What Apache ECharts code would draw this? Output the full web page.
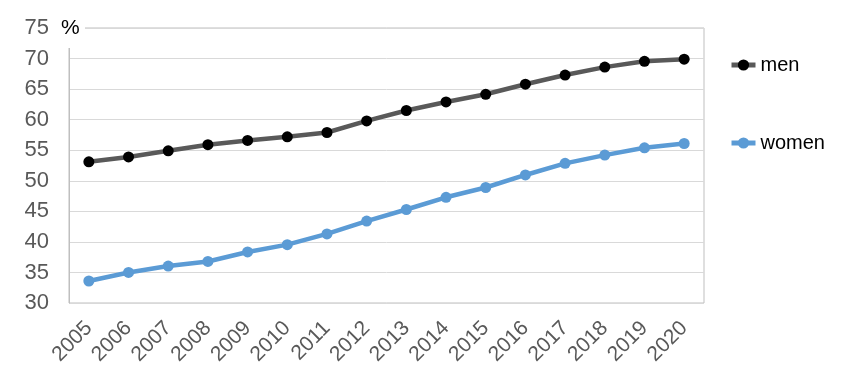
<!DOCTYPE html>
<html><head><meta charset="utf-8">
<script src="https://cdn.jsdelivr.net/npm/echarts@6/dist/echarts.min.js"></script>
<style>html,body{margin:0;padding:0;background:#fff}#c{width:850px;height:384px}</style>
</head><body><div id="c"></div>
<script>
var years = ['2005','2006','2007','2008','2009','2010','2011','2012','2013','2014','2015','2016','2017','2018','2019','2020'];
var men = [53.1, 53.9, 54.9, 55.9, 56.6, 57.2, 57.9, 59.8, 61.5, 62.9, 64.15, 65.8, 67.3, 68.6, 69.55, 69.9];
var women = [33.6, 35.0, 36.05, 36.8, 38.35, 39.55, 41.3, 43.4, 45.3, 47.3, 48.9, 50.95, 52.85, 54.2, 55.4, 56.1];
var seriesNames = ['men', 'women'];
var yTicks = {min: 30, max: 75, step: 5};
var unitLabel = '%';

var chart = echarts.init(document.getElementById('c'), null, {renderer: 'canvas'});
var font = "Liberation Sans, Arial, sans-serif";
chart.setOption({
  animation: false,
  grid: {left: 69, right: 146, top: 28, bottom: 81, show: true, borderColor: '#bfbfbf', borderWidth: 1},
  legend: {
    orient: 'vertical', left: 729, top: 55, padding: 0, itemGap: 58, itemWidth: 24, itemHeight: 14,
    textStyle: {fontFamily: font, fontSize: 20, color: '#000'},
    data: [
      {name: seriesNames[0], lineStyle: {width: 5, color: '#595959'}, itemStyle: {color: '#000'}},
      {name: seriesNames[1], lineStyle: {width: 5, color: '#5b9bd5'}, itemStyle: {color: '#5b9bd5'}}
    ]
  },
  xAxis: {
    type: 'category', data: years, boundaryGap: true,
    axisLine: {show: false}, axisTick: {show: false},
    axisLabel: {rotate: 45, margin: 22, interval: 0, fontFamily: font, fontSize: 21, color: '#595959'}
  },
  yAxis: {
    type: 'value', min: yTicks.min, max: yTicks.max, interval: yTicks.step,
    axisLine: {show: true, lineStyle: {color: '#bfbfbf', width: 1}}, axisTick: {show: false},
    splitLine: {show: true, lineStyle: {color: '#d9d9d9', width: 1}},
    axisLabel: {margin: 20, fontFamily: font, fontSize: 22, color: '#595959'}
  },
  graphic: [
    {type: 'rect', left: 57, top: 14, shape: {width: 28, height: 34}, style: {fill: '#fff'}, z: 100},
    {type: 'text', left: 61, top: 18, style: {text: unitLabel, font: '21px ' + font, fill: '#000'}, z: 101}
  ],
  series: [
    {name: seriesNames[0], type: 'line', data: men, symbol: 'circle', symbolSize: 11,
      lineStyle: {color: '#595959', width: 4.5}, itemStyle: {color: '#000'}, z: 3},
    {name: seriesNames[1], type: 'line', data: women, symbol: 'circle', symbolSize: 11,
      lineStyle: {color: '#5b9bd5', width: 4.5}, itemStyle: {color: '#5b9bd5'}, z: 2}
  ]
});
</script></body></html>
